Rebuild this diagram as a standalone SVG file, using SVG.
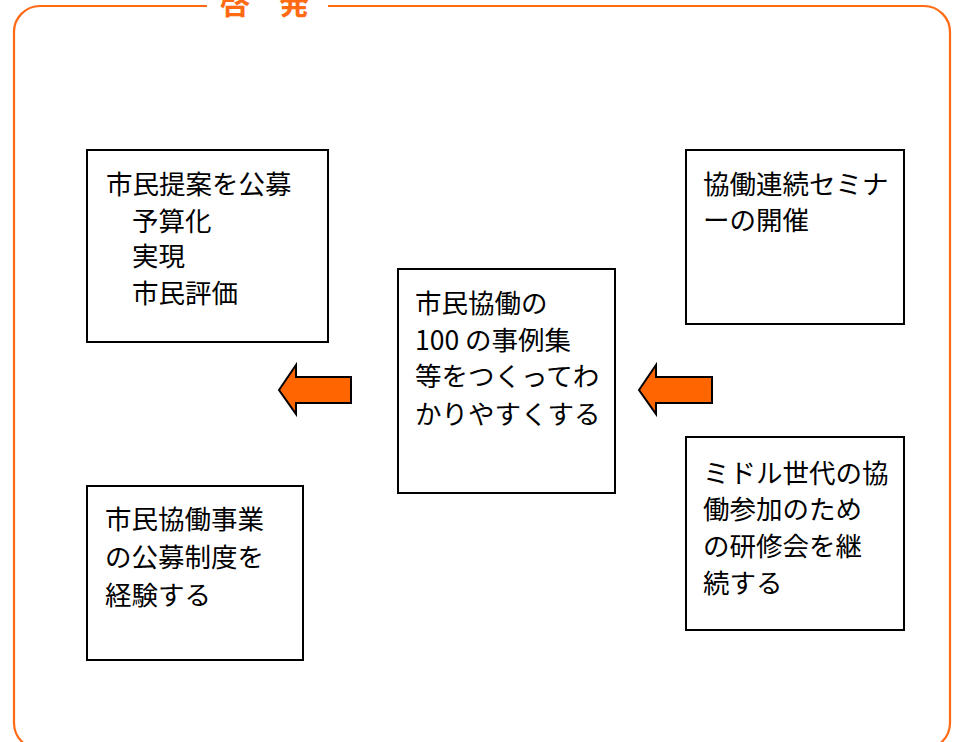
<svg xmlns="http://www.w3.org/2000/svg" width="954" height="742" viewBox="0 0 954 742">
<style>
.frame{fill:none;stroke:#FF6A13;stroke-width:2.2}
.title{font-family:"Noto Sans CJK JP","Noto Sans",sans-serif;font-size:30px;font-weight:bold;fill:#FF6A13}
.box{fill:#fff;stroke:#000;stroke-width:2}
.t{font-family:"Noto Sans CJK JP","Noto Sans",sans-serif;font-size:26.5px;fill:#000}
.arrow{fill:#FF6600;stroke:#000;stroke-width:2;stroke-linejoin:miter}
</style>
<rect x="0" y="0" width="954" height="742" fill="#fff"/>
<g id="frame">
<path class="frame" d="M207,6 H40 A26,26 0 0 0 14,32 V723 A26,26 0 0 0 40,749 H924 A26,26 0 0 0 950,723 V32 A26,26 0 0 0 924,6 H328"/>
<text class="title" x="220" y="14">啓</text>
<text class="title" x="279" y="14">発</text>
</g>
<g id="node-proposal">
<rect class="box" x="87" y="150" width="241" height="192"/>
<text class="t" x="106" y="194">市民提案を公募</text>
<text class="t" x="132" y="231">予算化</text>
<text class="t" x="132" y="266">実現</text>
<text class="t" x="132" y="303">市民評価</text>
</g>
<g id="node-experience">
<rect class="box" x="87" y="486" width="216" height="174"/>
<text class="t" x="105" y="529">市民協働事業</text>
<text class="t" x="105" y="567">の公募制度を</text>
<text class="t" x="105" y="605">経験する</text>
</g>
<g id="node-center">
<rect class="box" x="398" y="269" width="217" height="224"/>
<text class="t" x="415" y="313">市民協働の</text>
<text class="t" x="415" y="350">100 の事例集</text>
<text class="t" x="415" y="386">等をつくってわ</text>
<text class="t" x="415" y="424">かりやすくする</text>
</g>
<g id="node-seminar">
<rect class="box" x="686" y="150" width="218" height="174"/>
<text class="t" x="703" y="194">協働連続セミナ</text>
<text class="t" x="703" y="230">ーの開催</text>
</g>
<g id="node-training">
<rect class="box" x="686" y="437" width="218" height="193"/>
<text class="t" x="703" y="483">ミドル世代の協</text>
<text class="t" x="703" y="519">働参加のため</text>
<text class="t" x="703" y="556">の研修会を継</text>
<text class="t" x="703" y="593">続する</text>
</g>
<g id="connectors">
<path class="arrow" d="M279,390 L296,365 V377 H351 V403 H296 V414 Z"/>
<path class="arrow" d="M639,390 L656,365 V377 H712 V403 H656 V414 Z"/>
</g>
</svg>
